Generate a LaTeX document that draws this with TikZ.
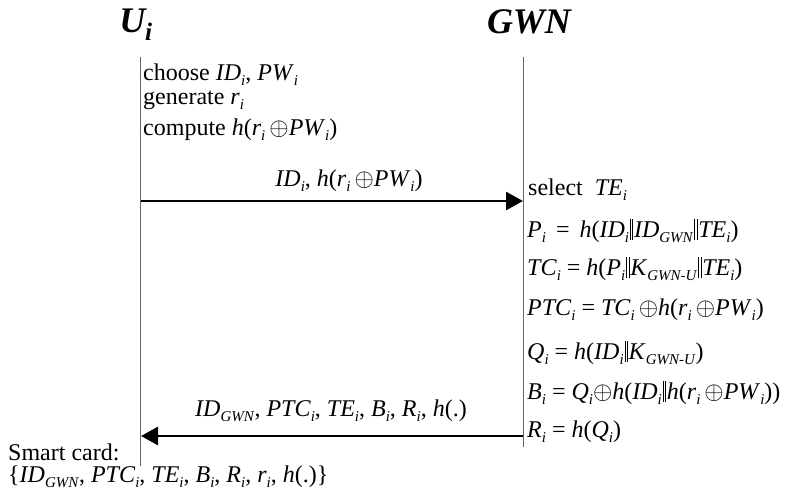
\documentclass[tikz,border=0pt]{standalone}
\usepackage{fontspec}
\setmainfont{Liberation Serif}
\usetikzlibrary{arrows.meta}
\newcommand\vi[2]{\textit{#1}\raisebox{-0.22em}{\fontsize{15}{15}\selectfont\textit{#2}}}
\newcommand\xo{\,$\oplus$}
\newcommand\xq{$\oplus$}
\newcommand\cc{\kern0.8pt\rule[-0.12em]{0.9pt}{0.86em}\kern1.6pt\rule[-0.12em]{0.9pt}{0.86em}\kern0.8pt}
\begin{document}
\begin{tikzpicture}[x=1pt,y=-1pt,
  txt/.style={anchor=base west,inner sep=0pt,font=\fontsize{24}{26}\selectfont},
  lbl/.style={anchor=base,inner sep=0pt,font=\fontsize{24}{26}\selectfont},
  ttl/.style={anchor=base,inner sep=0pt,font=\fontsize{36}{40}\selectfont\bfseries\itshape},
  life/.style={draw=black!60,line width=1pt},
  msg/.style={line width=2.7pt,-{Triangle[length=17pt,width=18pt]}}]
\useasboundingbox (0,0) rectangle (788,490);
% titles
\node[ttl] (U) at (136,32) {U\textsubscript{i}};
\node[ttl] (G) at (529,33) {GWN};
% lifelines
\coordinate (ut) at (140,57); \coordinate (ub) at (140,466);
\coordinate (gt) at (523,57); \coordinate (gb) at (523,447);
\draw[life] (ut) -- (ub);
\draw[life] (gt) -- (gb);
% user side
\node[txt] (t1) at (143,80) {choose \vi{ID}{i}, \vi{PW}{i}};
\node[txt] (t2) at (143,104) {generate \vi{r}{i}};
\node[txt] (t3) at (143,135) {compute \textit{h}(\vi{r}{i}\xo\vi{PW}{i})};
% message 1
\coordinate (a1s) at (141,201); \coordinate (a1e) at (523,201);
\draw[msg] (a1s) -- (a1e);
\node[lbl] (m1) at (349,186) {\vi{ID}{i}, \textit{h}(\vi{r}{i}\xo\vi{PW}{i})};
% GWN side
\node[txt] (g1) at (528,195) {select \ \vi{TE}{i}};
\node[txt] (g2) at (527,237) {\vi{P}{i} \,=\, \textit{h}(\vi{ID}{i}\cc\vi{ID}{GWN}\cc\vi{TE}{i})};
\node[txt] (g3) at (527,275) {\vi{TC}{i} = \textit{h}(\vi{P}{i}\cc\vi{K}{GWN-U}\cc\vi{TE}{i})};
\node[txt] (g4) at (527,315) {\vi{PTC}{i} = \vi{TC}{i}\xo\textit{h}(\vi{r}{i}\xo\vi{PW}{i})};
\node[txt] (g5) at (527,359) {\vi{Q}{i} = \textit{h}(\vi{ID}{i}\cc\vi{K}{GWN-U})};
\node[txt] (g6) at (527,399) {\vi{B}{i} = \vi{Q}{i}\xq\textit{h}(\vi{ID}{i}\cc\textit{h}(\vi{r}{i}\xo\vi{PW}{i}))};
\node[txt] (g7) at (527,437) {\vi{R}{i} = \textit{h}(\vi{Q}{i})};
% message 2
\coordinate (a2s) at (523,436); \coordinate (a2e) at (141,436);
\draw[msg] (a2s) -- (a2e);
\node[lbl] (m2) at (331,416) {\vi{ID}{GWN}, \vi{PTC}{i}, \vi{TE}{i}, \vi{B}{i}, \vi{R}{i}, \textit{h}(.)};
% smart card
\node[txt] (s1) at (8,460) {Smart card:};
\node[txt] (s2) at (8,482) {\{\vi{ID}{GWN}, \vi{PTC}{i}, \vi{TE}{i}, \vi{B}{i}, \vi{R}{i}, \vi{r}{i}, \textit{h}(.)\}};
\end{tikzpicture}
\end{document}
